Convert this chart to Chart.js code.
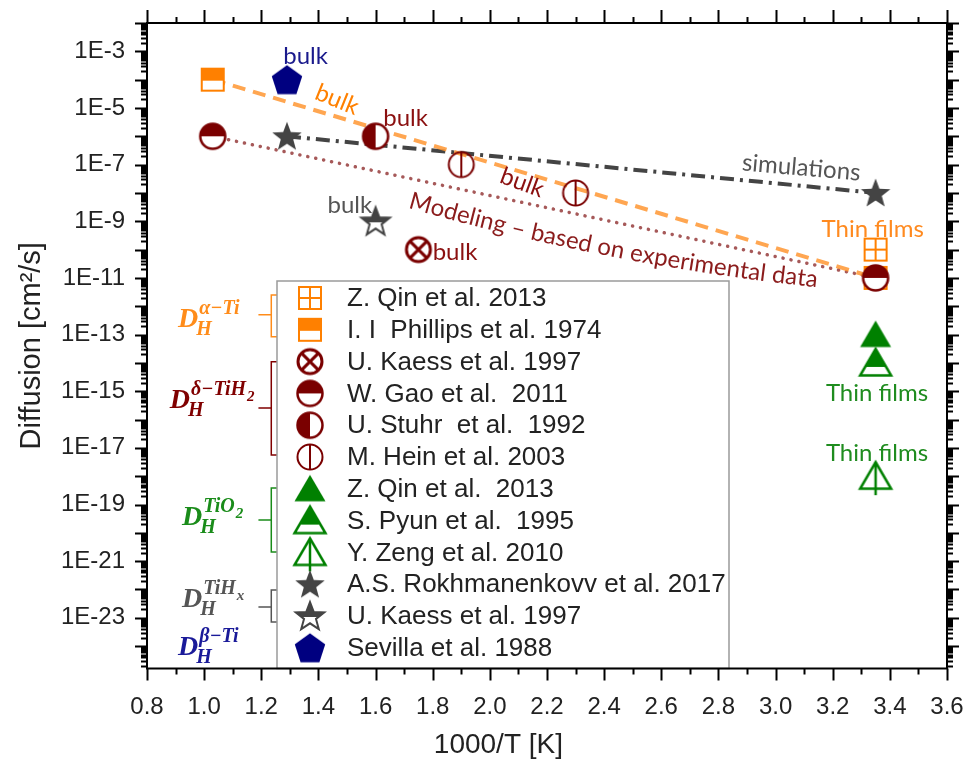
<!DOCTYPE html>
<html>
<head>
<meta charset="utf-8">
<script src="https://cdn.jsdelivr.net/npm/chart.js@4.4.0/dist/chart.umd.min.js"></script>
<style>
  html, body { margin: 0; padding: 0; background: #fff; }
  canvas { display: block; }
</style>
</head>
<body>
<canvas id="diffusionChart" width="965" height="771"></canvas>
<script>
// 1000/T [1/K] and diffusion coefficient [cm^2/s] for each source
const qinSquareX = [3.35];
const qinSquareY = [1e-10];
const phillipsX = [1.03, 3.35];
const phillipsY = [1e-4, 1e-11];
const kaessCircleX = [1.75];
const kaessCircleY = [1e-10];
const gaoX = [1.03, 3.35];
const gaoY = [1e-6, 1e-11];
const stuhrX = [1.6];
const stuhrY = [1e-6];
const heinX = [1.9, 2.3];
const heinY = [1e-7, 1e-8];
const qinTriangleX = [3.35];
const qinTriangleY = [1e-13];
const pyunX = [3.35];
const pyunY = [1e-14];
const zengX = [3.35];
const zengY = [1e-18];
const rokhX = [1.29, 3.35];
const rokhY = [1e-6, 1e-8];
const kaessStarX = [1.6];
const kaessStarY = [1e-9];
const sevillaX = [1.29];
const sevillaY = [1e-4];

const xTicks = [0.8, 1.0, 1.2, 1.4, 1.6, 1.8, 2.0, 2.2, 2.4, 2.6, 2.8, 3.0, 3.2, 3.4, 3.6];
const yLabelExponents = [-3, -5, -7, -9, -11, -13, -15, -17, -19, -21, -23];

const ORANGE = '#ff8000';
const MAROON = '#7a0000';
const GREEN = '#008000';
const GRAY = '#444444';
const NAVY = '#000080';

const toPoints = (xs, ys) => xs.map((x, i) => ({ x: x, y: ys[i] }));

// ---- marker glyphs, drawn once into small canvases ----
function makeMarker(draw) {
    const c = document.createElement('canvas');
    c.width = 40;
    c.height = 40;
    const g = c.getContext('2d');
    g.translate(20, 20);
    draw(g);
    return c;
}
function circlePath(g, r) {
    g.beginPath();
    g.arc(0, 0, r, 0, Math.PI * 2);
}
function trianglePath(g) {
    g.beginPath();
    g.moveTo(0, -14);
    g.lineTo(15.5, 12.5);
    g.lineTo(-15.5, 12.5);
    g.closePath();
}
function starPath(g, R, r) {
    g.beginPath();
    for (let i = 0; i < 10; i++) {
        const rad = i % 2 === 0 ? R : r;
        const a = -Math.PI / 2 + i * Math.PI / 5;
        g.lineTo(rad * Math.cos(a), rad * Math.sin(a) + 1);
    }
    g.closePath();
}
function pentagonPath(g, R) {
    g.beginPath();
    for (let i = 0; i < 5; i++) {
        const a = -Math.PI / 2 + i * 2 * Math.PI / 5;
        g.lineTo(R * Math.cos(a), R * Math.sin(a) + 1.5);
    }
    g.closePath();
}

const markers = {
    squarePlus: makeMarker(g => {
        g.strokeStyle = ORANGE; g.lineWidth = 2;
        g.fillStyle = '#fff'; g.fillRect(-11, -11, 22, 22);
        g.strokeRect(-11, -11, 22, 22);
        g.beginPath();
        g.moveTo(0, -11); g.lineTo(0, 11);
        g.moveTo(-11, 0); g.lineTo(11, 0);
        g.stroke();
    }),
    squareHalf: makeMarker(g => {
        g.fillStyle = '#fff'; g.fillRect(-11, -11, 22, 22);
        g.fillStyle = ORANGE; g.fillRect(-11, -11, 22, 12);
        g.strokeStyle = ORANGE; g.lineWidth = 2;
        g.strokeRect(-11, -11, 22, 22);
    }),
    circleCross: makeMarker(g => {
        const r = 12;
        g.strokeStyle = MAROON; g.lineWidth = 3;
        circlePath(g, r); g.fillStyle = '#fff'; g.fill(); g.stroke();
        const d = r * 0.72;
        g.beginPath();
        g.moveTo(-d, -d); g.lineTo(d, d);
        g.moveTo(d, -d); g.lineTo(-d, d);
        g.stroke();
    }),
    circleTop: makeMarker(g => {
        const r = 12.5;
        circlePath(g, r); g.fillStyle = '#fff'; g.fill();
        g.beginPath(); g.arc(0, 0, r, Math.PI, 0); g.closePath();
        g.fillStyle = MAROON; g.fill();
        g.strokeStyle = MAROON; g.lineWidth = 2.5;
        circlePath(g, r); g.stroke();
    }),
    circleLeft: makeMarker(g => {
        const r = 12.5;
        circlePath(g, r); g.fillStyle = '#fff'; g.fill();
        g.beginPath(); g.arc(0, 0, r, Math.PI / 2, Math.PI * 1.5); g.closePath();
        g.fillStyle = MAROON; g.fill();
        g.strokeStyle = MAROON; g.lineWidth = 2.5;
        circlePath(g, r); g.stroke();
    }),
    circleBar: makeMarker(g => {
        const r = 12.5;
        g.strokeStyle = MAROON; g.lineWidth = 2;
        circlePath(g, r); g.stroke();
        g.beginPath(); g.moveTo(0, -r); g.lineTo(0, r); g.stroke();
    }),
    triangle: makeMarker(g => {
        trianglePath(g); g.fillStyle = GREEN; g.fill();
    }),
    triangleHalf: makeMarker(g => {
        trianglePath(g); g.fillStyle = '#fff'; g.fill();
        g.save(); trianglePath(g); g.clip();
        g.fillStyle = GREEN; g.fillRect(-16, -15, 32, 19);
        g.restore();
        g.strokeStyle = GREEN; g.lineWidth = 2.5;
        trianglePath(g); g.stroke();
    }),
    triangleBar: makeMarker(g => {
        g.strokeStyle = GREEN; g.lineWidth = 2.5;
        trianglePath(g); g.stroke();
        g.beginPath(); g.moveTo(0, -14); g.lineTo(0, 19); g.stroke();
    }),
    star: makeMarker(g => {
        starPath(g, 15.5, 6.5); g.fillStyle = GRAY; g.fill();
    }),
    starHalf: makeMarker(g => {
        starPath(g, 15, 6.3); g.fillStyle = '#fff'; g.fill();
        g.save(); starPath(g, 15, 6.3); g.clip();
        g.fillStyle = GRAY; g.fillRect(-16, -16, 32, 17);
        g.restore();
        g.strokeStyle = GRAY; g.lineWidth = 2;
        starPath(g, 15, 6.3); g.stroke();
    }),
    pentagon: makeMarker(g => {
        pentagonPath(g, 16); g.fillStyle = NAVY; g.fill();
    })
};

function markerSet(label, xs, ys, style, order) {
    return {
        label: label,
        data: toPoints(xs, ys),
        pointStyle: style,
        pointRadius: 12,
        showLine: false,
        inLegend: true,
        order: order
    };
}
function trendLine(xs, ys, color, width, dash, cap) {
    return {
        label: '',
        data: toPoints(xs, ys),
        showLine: true,
        pointRadius: 0,
        borderColor: color,
        borderWidth: width,
        borderDash: dash,
        borderCapStyle: cap,
        inLegend: false,
        order: 5
    };
}

// text notes placed in data units (y given as log10)
const notes = [
    { text: 'bulk', x: 1.355, ly: -3.19, color: '#1a1a8c', angle: 0 },
    { text: 'bulk', x: 1.465, ly: -4.71, color: ORANGE, angle: 22 },
    { text: 'bulk', x: 1.705, ly: -5.38, color: '#8b1010', angle: 0 },
    { text: 'bulk', x: 2.113, ly: -7.64, color: '#8b1010', angle: 20 },
    { text: 'bulk', x: 1.51, ly: -8.42, color: '#555555', angle: 0 },
    { text: 'bulk', x: 1.878, ly: -10.11, color: '#8b1010', angle: 0 },
    { text: 'simulations', x: 3.09, ly: -7.11, color: '#555555', angle: 5 },
    { text: 'Thin films', x: 3.34, ly: -9.3, color: '#ff8a1f', angle: 0 },
    { text: 'Thin films', x: 3.355, ly: -15.06, color: '#1f8c1f', angle: 0 },
    { text: 'Thin films', x: 3.355, ly: -17.18, color: '#1f8c1f', angle: 0 }
];
// the modelling caption bends gently along the dotted trend
const modelNote = { text: 'Modeling – based on experimental data', x: 1.72, ly: -8.26, color: '#8b1c1c', angleStart: 16, angleEnd: 6 };

// phase labels D_H^(phase) with their brackets [top, bottom, stub] in log10 units
const phases = [
    { sup: 'α−Ti', supSub: '', x: 0.9085, ly: -12.73, color: '#ff8c1a', bracket: [-11.60, -13.08, -12.30] },
    { sup: 'δ−TiH', supSub: '2', x: 0.88, ly: -15.59, color: '#800000', bracket: [-13.96, -17.25, -15.59] },
    { sup: 'TiO', supSub: '2', x: 0.9225, ly: -19.72, color: '#1a8c1a', bracket: [-18.42, -20.68, -19.55] },
    { sup: 'TiH', supSub: 'x', x: 0.9225, ly: -22.62, color: '#555555', bracket: [-22.02, -23.15, -22.62] },
    { sup: 'β−Ti', supSub: '', x: 0.9085, ly: -24.32, color: '#1a1a99', bracket: null }
];
const bracketX = 1.235;
const bracketStubX = 1.19;
const xTitleAt = 2.03;

const axisFont = '"Liberation Sans", Arial, sans-serif';
const noteFont = 'Lato, "Open Sans", sans-serif';

const annotations = {
    id: 'annotations',
    afterDatasetsDraw(chart) {
        const { ctx } = chart;
        const xs = chart.scales.x, ys = chart.scales.y;
        ctx.save();
        ctx.textAlign = 'center';
        ctx.textBaseline = 'middle';
        ctx.font = '24px ' + noteFont;
        notes.forEach(n => {
            ctx.save();
            ctx.translate(xs.getPixelForValue(n.x), ys.getPixelForValue(Math.pow(10, n.ly)));
            ctx.rotate(n.angle * Math.PI / 180);
            ctx.fillStyle = n.color;
            ctx.fillText(n.text, 0, 0);
            ctx.restore();
        });

        // caption laid out glyph by glyph with a slowly flattening angle
        ctx.font = '24px ' + noteFont;
        ctx.fillStyle = modelNote.color;
        ctx.textAlign = 'left';
        const total = ctx.measureText(modelNote.text).width;
        let cx = xs.getPixelForValue(modelNote.x);
        let cy = ys.getPixelForValue(Math.pow(10, modelNote.ly));
        let run = 0;
        for (const ch of modelNote.text) {
            const adv = ctx.measureText(ch).width;
            const t = (run + adv / 2) / total;
            const ang = (modelNote.angleStart + (modelNote.angleEnd - modelNote.angleStart) * t) * Math.PI / 180;
            ctx.save();
            ctx.translate(cx, cy);
            ctx.rotate(ang);
            ctx.fillText(ch, 0, 0);
            ctx.restore();
            cx += adv * Math.cos(ang);
            cy += adv * Math.sin(ang);
            run += adv;
        }

        const serif = '"Liberation Serif", "DejaVu Serif", serif';
        ctx.textAlign = 'left';
        ctx.textBaseline = 'alphabetic';
        phases.forEach(p => {
            const px = xs.getPixelForValue(p.x);
            const py = ys.getPixelForValue(Math.pow(10, p.ly));
            ctx.fillStyle = p.color;
            ctx.font = 'italic bold 28px ' + serif;
            ctx.fillText('D', px, py);
            const dw = ctx.measureText('D').width;
            ctx.font = 'italic bold 20px ' + serif;
            ctx.fillText('H', px + dw - 2, py + 8);
            ctx.fillText(p.sup, px + dw + 1, py - 13);
            if (p.supSub) {
                const sw = ctx.measureText(p.sup).width;
                ctx.font = 'italic bold 15px ' + serif;
                ctx.fillText(p.supSub, px + dw + 2 + sw, py - 7);
            }
            if (p.bracket) {
                const bx = xs.getPixelForValue(bracketX);
                const sx = xs.getPixelForValue(bracketStubX);
                const t = ys.getPixelForValue(Math.pow(10, p.bracket[0]));
                const b = ys.getPixelForValue(Math.pow(10, p.bracket[1]));
                const m = ys.getPixelForValue(Math.pow(10, p.bracket[2]));
                ctx.strokeStyle = p.color;
                ctx.lineWidth = 1.5;
                ctx.beginPath();
                ctx.moveTo(bx + 6, t); ctx.lineTo(bx, t); ctx.lineTo(bx, b); ctx.lineTo(bx + 6, b);
                ctx.moveTo(sx, m); ctx.lineTo(bx, m);
                ctx.stroke();
            }
        });
        ctx.restore();
    }
};

const legendBox = {
    id: 'legendBox',
    afterDraw(chart) {
        const { ctx, chartArea: a } = chart;
        const x0 = a.left + 130, y0 = a.top + 258;
        const w = 452, h = a.bottom - y0;
        ctx.save();
        ctx.fillStyle = '#fff';
        ctx.fillRect(x0, y0, w, h);
        ctx.strokeStyle = '#9a9a9a';
        ctx.lineWidth = 1.5;
        ctx.strokeRect(x0, y0, w, h);
        ctx.font = '26px ' + axisFont;
        ctx.fillStyle = '#222';
        ctx.textBaseline = 'middle';
        chart.data.datasets.filter(d => d.inLegend).forEach((d, i) => {
            const cy = y0 + 17 + i * 31.8;
            const m = d.pointStyle;
            ctx.drawImage(m, x0 + 33 - m.width / 2, cy - m.height / 2);
            ctx.fillText(d.label, x0 + 70, cy + 1);
        });
        ctx.restore();
    }
};

// closed frame with outward ticks on all four sides, plus the x title
const frameTicks = {
    id: 'frameTicks',
    afterDraw(chart) {
        const { ctx, chartArea: a } = chart;
        const xs = chart.scales.x, ys = chart.scales.y;
        ctx.save();
        ctx.strokeStyle = '#000';
        ctx.lineWidth = 2;
        ctx.beginPath();
        for (let e = -25; e <= -2; e++) {
            for (let m = 1; m <= 9; m++) {
                const v = m * Math.pow(10, e);
                if (v < ys.min || v > ys.max) continue;
                const py = Math.round(ys.getPixelForValue(v)) + 0.5;
                const len = m === 1 ? 12 : 6;
                ctx.moveTo(a.left - len, py); ctx.lineTo(a.left, py);
                ctx.moveTo(a.right, py); ctx.lineTo(a.right + len, py);
            }
        }
        for (let i = 0; i <= 28; i++) {
            const v = 0.8 + i * 0.1;
            const px = Math.round(xs.getPixelForValue(v)) + 0.5;
            const major = i % 2 === 0;
            ctx.moveTo(px, a.bottom); ctx.lineTo(px, a.bottom + (major ? 12 : 6));
            ctx.moveTo(px, a.top); ctx.lineTo(px, a.top - (major ? 13 : 6));
        }
        ctx.stroke();
        ctx.strokeRect(a.left, a.top, a.right - a.left, a.bottom - a.top);

        ctx.fillStyle = '#222';
        ctx.font = '28px ' + axisFont;
        ctx.textAlign = 'center';
        ctx.textBaseline = 'middle';
        ctx.fillText('1000/T [K]', xs.getPixelForValue(xTitleAt), a.bottom + 77);
        ctx.restore();
    }
};

const datasets = [
    markerSet('Z. Qin et al. 2013', qinSquareX, qinSquareY, markers.squarePlus, 1),
    markerSet('I. I  Phillips et al. 1974', phillipsX, phillipsY, markers.squareHalf, 1),
    markerSet('U. Kaess et al. 1997', kaessCircleX, kaessCircleY, markers.circleCross, 1),
    markerSet('W. Gao et al.  2011', gaoX, gaoY, markers.circleTop, 0),
    markerSet('U. Stuhr  et al.  1992', stuhrX, stuhrY, markers.circleLeft, 1),
    markerSet('M. Hein et al. 2003', heinX, heinY, markers.circleBar, 1),
    markerSet('Z. Qin et al.  2013', qinTriangleX, qinTriangleY, markers.triangle, 1),
    markerSet('S. Pyun et al.  1995', pyunX, pyunY, markers.triangleHalf, 1),
    markerSet('Y. Zeng et al. 2010', zengX, zengY, markers.triangleBar, 1),
    markerSet('A.S. Rokhmanenkovv et al. 2017', rokhX, rokhY, markers.star, 1),
    markerSet('U. Kaess et al. 1997', kaessStarX, kaessStarY, markers.starHalf, 1),
    markerSet('Sevilla et al. 1988', sevillaX, sevillaY, markers.pentagon, 1),
    trendLine(phillipsX, phillipsY, 'rgba(255,150,50,0.85)', 4, [13, 8], 'butt'),
    trendLine(gaoX, gaoY, 'rgba(150,60,60,0.85)', 3.5, [0.1, 8], 'round'),
    trendLine(rokhX, rokhY, '#444444', 4, [14, 6, 3, 6], 'butt')
];

new Chart(document.getElementById('diffusionChart'), {
    type: 'scatter',
    data: { datasets: datasets },
    options: {
        responsive: false,
        animation: false,
        layout: { padding: { left: 0, top: 23, right: 18, bottom: 0 } },
        plugins: {
            legend: { display: false },
            tooltip: { enabled: false }
        },
        scales: {
            x: {
                type: 'linear',
                min: 0.8,
                max: 3.6,
                afterFit: (scale) => {
                    scale.height = 102.5;
                    scale.paddingLeft = 0;
                    scale.paddingRight = 0;
                },
                afterBuildTicks: (scale) => { scale.ticks = xTicks.map(v => ({ value: v })); },
                grid: { display: false, drawTicks: false },
                border: { display: false },
                ticks: {
                    autoSkip: false,
                    maxRotation: 0,
                    padding: 24,
                    color: '#222',
                    font: { family: axisFont, size: 24 },
                    callback: (value) => Number(value).toFixed(1)
                }
            },
            y: {
                type: 'logarithmic',
                min: Math.pow(10, -24.79),
                max: 1e-2,
                afterFit: (scale) => {
                    scale.width = 147;
                    scale.paddingTop = 0;
                    scale.paddingBottom = 0;
                },
                afterBuildTicks: (scale) => { scale.ticks = yLabelExponents.map(e => ({ value: Math.pow(10, e) })); },
                grid: { display: false, drawTicks: false },
                border: { display: false },
                ticks: {
                    autoSkip: false,
                    padding: 22,
                    color: '#222',
                    font: { family: axisFont, size: 24 },
                    callback: (value) => '1E' + Math.round(Math.log10(value))
                },
                title: {
                    display: true,
                    text: 'Diffusion [cm²/s]',
                    color: '#222',
                    font: { family: axisFont, size: 29 },
                    padding: { top: 15 }
                }
            }
        }
    },
    plugins: [annotations, legendBox, frameTicks]
});
</script>
</body>
</html>
